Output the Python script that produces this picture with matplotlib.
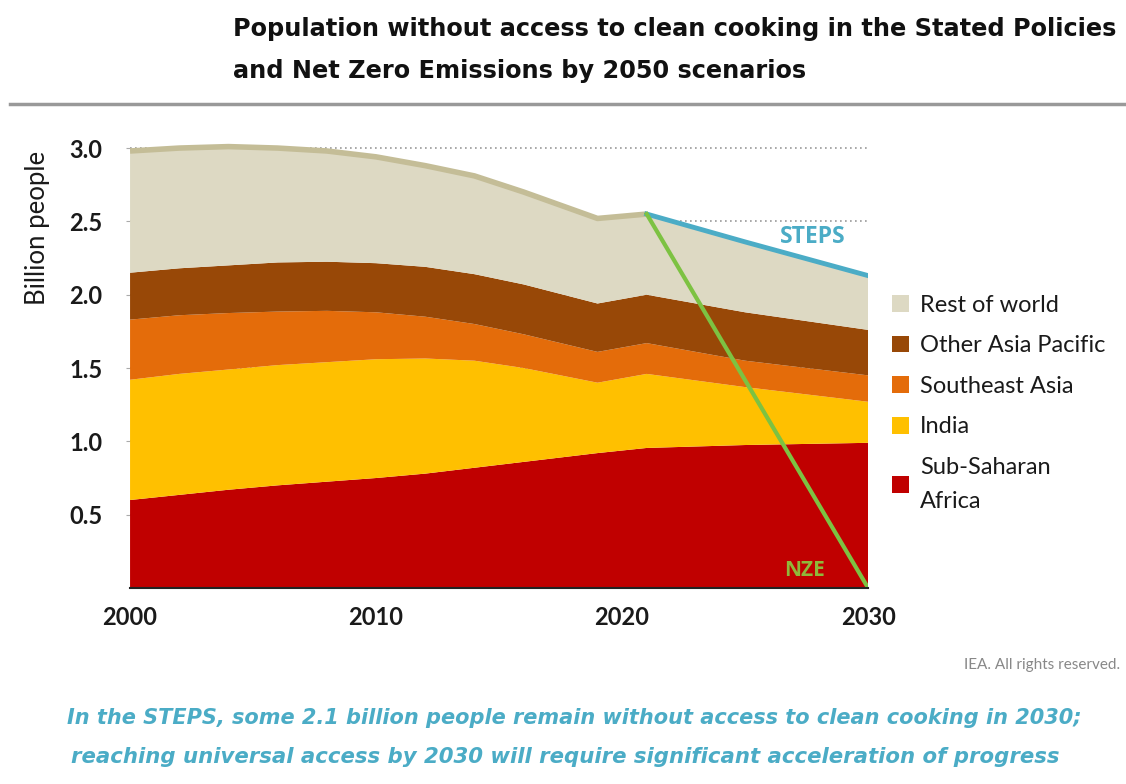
import numpy as np
import matplotlib
matplotlib.use('agg')
import matplotlib.pyplot as plt

years = [2000, 2002, 2004, 2006, 2008, 2010, 2012, 2014, 2016, 2019, 2021, 2025, 2030]
africa = [0.60, 0.635, 0.67, 0.70, 0.725, 0.75, 0.78, 0.82, 0.86, 0.92, 0.955, 0.975, 0.99]
india = [0.82, 0.825, 0.82, 0.82, 0.815, 0.81, 0.785, 0.73, 0.64, 0.48, 0.505, 0.395, 0.28]
seasia = [0.41, 0.40, 0.385, 0.365, 0.35, 0.32, 0.285, 0.25, 0.23, 0.21, 0.21, 0.18, 0.18]
otherap = [0.32, 0.32, 0.325, 0.335, 0.335, 0.335, 0.34, 0.34, 0.34, 0.33, 0.33, 0.33, 0.31]
rest = [0.83, 0.82, 0.81, 0.78, 0.755, 0.725, 0.69, 0.67, 0.63, 0.58, 0.55, 0.48, 0.37]

labels = ['Sub-Saharan\nAfrica', 'India', 'Southeast Asia', 'Other Asia Pacific', 'Rest of world']
colors = ['#c00000', '#ffc000', '#e46c0a', '#984807', '#ddd9c3']

nze_years = [2021, 2030]
nze_vals = [2.55, 0.0]

yticks = [0.5, 1.0, 1.5, 2.0, 2.5, 3.0]
xticks = [2000, 2010, 2020, 2030]

fig = plt.figure(figsize=(11.26, 7.84), dpi=100)
ax = fig.add_axes([0.1155, 0.25, 0.6555, 0.5705])

series = [africa, india, seasia, otherap, rest]
total = np.sum(np.array(series), axis=0)
yr = np.array(years)

ax.stackplot(years, *series, colors=colors, labels=labels, lw=0, zorder=2)

# outline of historical total
hist = yr <= 2021
ax.plot(yr[hist], total[hist], c='#c4bd97', lw=4, zorder=3, solid_capstyle='butt')
# STEPS
fut = yr >= 2021
ax.plot(yr[fut], total[fut], c='#4bacc6', lw=3.5, zorder=4)
ax.plot(nze_years, nze_vals, c='#7dc242', lw=3, zorder=5)

ax.text(2026.4, 2.35, 'STEPS', color='#4bacc6', fontsize=16.5, fontweight='bold',
        family='Open Sans', zorder=6)
ax.text(2026.6, 0.08, 'NZE', color='#8fb83a', fontsize=15, fontweight='bold',
        family='Open Sans', zorder=6)

ax.set_xlim(2000, 2030)
ax.set_ylim(0, 3.05)
ax.set_yticks(yticks)
ax.set_yticklabels(['%.1f' % v for v in yticks])
ax.set_xticks(xticks)
for s in ['top', 'right', 'left']:
    ax.spines[s].set_visible(False)
ax.spines['bottom'].set_color('#222222')
ax.spines['bottom'].set_linewidth(1.5)
ax.spines['bottom'].set_zorder(7)
ax.tick_params(axis='y', length=3, color='#aaaaaa', labelsize=17, pad=17)
ax.tick_params(axis='x', length=0, labelsize=17, pad=13)
for t in ax.get_xticklabels() + ax.get_yticklabels():
    t.set_family('Lato')
    t.set_fontweight('bold')
    t.set_color('#1a1a1a')
ax.grid(axis='y', ls=(0, (1, 2)), color='#999999', lw=1.2, zorder=0)
ax.set_axisbelow(True)
ax.set_ylabel('Billion people', fontsize=18.5, family='Lato', color='#1a1a1a')
ax.yaxis.set_label_coords(-0.108, 0.805)

h, l = ax.get_legend_handles_labels()
leg = ax.legend(h[::-1], l[::-1], loc='upper left', bbox_to_anchor=(1.02, 0.677),
                frameon=False, prop={'family': 'Lato', 'size': 17},
                handlelength=0.72, handleheight=0.72, handletextpad=0.45,
                labelspacing=0.83, borderaxespad=0)
for t in leg.get_texts():
    t.set_color('#1a1a1a')
    t.set_linespacing(1.75)

fig.text(0.207, 0.963, 'Population without access to clean cooking in the Stated Policies',
         fontsize=17.3, fontweight='bold', family='DejaVu Sans', va='center', color='#111111')
fig.text(0.207, 0.910, 'and Net Zero Emissions by 2050 scenarios',
         fontsize=17.3, fontweight='bold', family='DejaVu Sans', va='center', color='#111111')
fig.add_artist(plt.Line2D([0.009, 1.0], [0.867, 0.867], color='#999999', lw=2.5))

fig.text(0.995, 0.152, 'IEA. All rights reserved.', fontsize=11, family='Lato',
         color='#888888', ha='right', va='center')
fig.text(0.51, 0.084, 'In the STEPS, some 2.1 billion people remain without access to clean cooking in 2030;',
         fontsize=15.0, fontweight='bold', style='italic', family='DejaVu Sans',
         color='#4bacc6', ha='center', va='center')
fig.text(0.502, 0.035, 'reaching universal access by 2030 will require significant acceleration of progress',
         fontsize=15.3, fontweight='bold', style='italic', family='DejaVu Sans',
         color='#4bacc6', ha='center', va='center')

fig.savefig('out.png', dpi=100)
